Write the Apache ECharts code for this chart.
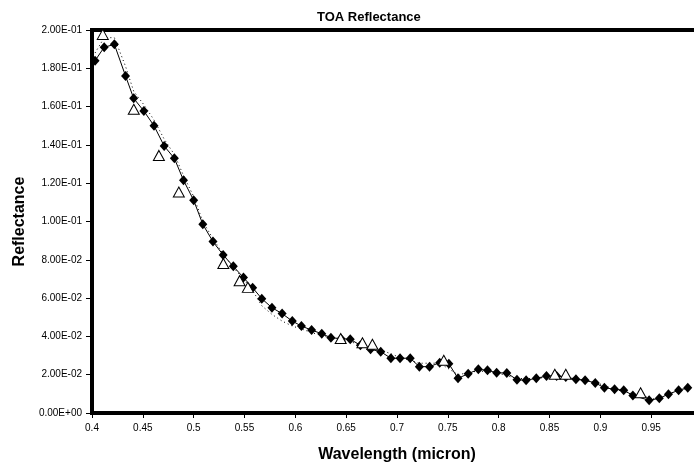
<!DOCTYPE html>
<html>
<head>
<meta charset="utf-8">
<script src="https://cdn.jsdelivr.net/npm/echarts@6/dist/echarts.min.js"></script>
<style>html,body{margin:0;padding:0;background:#fff;}#chart{width:694px;height:470px;}</style>
</head>
<body>
<div id="chart"></div>
<script>
// Diamond series (solid line)
var diamondX = [0.403,0.412,0.422,0.433,0.441,0.451,0.461,0.471,0.481,0.490,
  0.500,0.509,0.519,0.529,0.539,0.549,0.558,0.567,0.577,0.587,
  0.597,0.606,0.616,0.626,0.635,0.645,0.654,0.664,0.674,0.684,
  0.694,0.703,0.713,0.722,0.732,0.742,0.751,0.760,0.770,0.780,
  0.789,0.798,0.808,0.818,0.827,0.837,0.847,0.857,0.866,0.876,
  0.885,0.895,0.904,0.914,0.923,0.932,0.948,0.958,0.967,0.977,0.986];
var diamondY = [0.184,0.191,0.1925,0.176,0.1643,0.1577,0.150,0.1394,0.133,0.1215,
  0.1111,0.0985,0.0895,0.0825,0.0766,0.0707,0.0654,0.0597,0.055,0.0519,
  0.048,0.0454,0.0433,0.0414,0.0393,0.0388,0.0385,0.0354,0.0333,0.032,
  0.0286,0.0286,0.0286,0.0242,0.0242,0.0263,0.0257,0.0181,0.0205,0.0228,
  0.0223,0.021,0.0209,0.0174,0.0171,0.0181,0.0193,0.0193,0.0188,0.0176,
  0.0171,0.0157,0.0132,0.0124,0.0119,0.0092,0.0066,0.0077,0.0098,0.0119,0.0132];

// Triangle series (open markers)
var triX = [0.4106,0.4411,0.4658,0.4854,0.5292,0.5452,0.5533,0.6446,0.666,0.6758,0.746,0.8552,0.866,0.9396];
var triY = [0.1977,0.1586,0.1345,0.1154,0.0781,0.0691,0.0656,0.0389,0.0367,0.0359,0.0275,0.0202,0.0202,0.0106];

// Dotted line series
var dotX = [0.403,0.412,0.422,0.433,0.441,0.451,0.461,0.471,0.481,0.490,0.500,0.509,0.519,0.529,0.539,0.549,0.558,0.567,0.577,0.587,0.597,0.606,0.616,0.626,0.635,0.645,0.664,0.684,0.703,0.722,0.742,0.760,0.780,0.798,0.818,0.837,0.857,0.876,0.895,0.914,0.932,0.941,0.950,0.967,0.986];
var dotY = [0.188,0.196,0.196,0.181,0.168,0.161,0.153,0.143,0.135,0.124,0.113,0.100,0.091,0.083,0.076,0.070,0.064,0.056,0.0515,0.048,0.0454,0.0439,0.042,0.0405,0.039,0.038,0.036,0.033,0.029,0.026,0.026,0.020,0.022,0.021,0.018,0.018,0.0195,0.018,0.016,0.0125,0.010,0.0095,0.007,0.010,0.013];

var xTicks = {min:0.4, max:1.0, interval:0.05};
var yTicks = {min:0, max:0.2, interval:0.02};

function pairs(xs, ys){ return xs.map(function(x,i){ return [x, ys[i]]; }); }
function fmtE(v){
  if (v === 0) return '0.00E+00';
  var e = Math.floor(Math.log10(Math.abs(v)) + 1e-9);
  var m = v / Math.pow(10, e);
  if (Math.abs(m) >= 9.995) { m /= 10; e += 1; }
  var es = (e < 0 ? '-' : '+') + (Math.abs(e) < 10 ? '0' : '') + Math.abs(e);
  return m.toFixed(2) + 'E' + es;
}

var FONT = "'Liberation Sans', Arial, sans-serif";
var chart = echarts.init(document.getElementById('chart'), null, {renderer:'canvas'});
chart.setOption({
  animation: false,
  backgroundColor: '#fff',
  title: {
    text: 'TOA Reflectance', left: 312, top: 6,
    textStyle: {fontFamily: FONT, fontSize: 13, fontWeight: 'bold', color: '#000'}
  },
  grid: {
    left: 92, top: 30, right: -8, bottom: 57,
    outerBoundsMode: 'none', containLabel: false,
    show: true, borderColor: '#000', borderWidth: 4, backgroundColor: '#fff'
  },
  xAxis: {
    type: 'value', min: xTicks.min, max: xTicks.max, interval: xTicks.interval,
    name: 'Wavelength (micron)', nameLocation: 'middle', nameGap: 34,
    nameTextStyle: {fontFamily: FONT, fontSize: 16, fontWeight: 'bold', color: '#000'},
    axisLine: {show: true, onZero: false, lineStyle: {color: '#000', width: 4}},
    axisTick: {show: true, inside: false, length: 5, lineStyle: {color: '#000', width: 1}},
    axisLabel: {
      fontFamily: FONT, fontSize: 10, color: '#000', margin: 10,
      formatter: function(v){ return v > 0.97 ? '' : String(Number(v.toFixed(2))); }
    },
    splitLine: {show: false}
  },
  yAxis: {
    type: 'value', min: yTicks.min, max: yTicks.max, interval: yTicks.interval,
    name: 'Reflectance', nameLocation: 'middle', nameGap: 64, nameRotate: 90,
    nameTextStyle: {fontFamily: FONT, fontSize: 16, fontWeight: 'bold', color: '#000'},
    axisLine: {show: true, lineStyle: {color: '#000', width: 4}},
    axisTick: {show: true, inside: false, length: 6, lineStyle: {color: '#000', width: 1}},
    axisLabel: {fontFamily: FONT, fontSize: 10, color: '#000', margin: 10, formatter: fmtE},
    splitLine: {show: false}
  },
  series: [
    {
      type: 'line', data: pairs(dotX, dotY), symbol: 'none', z: 2,
      lineStyle: {color: '#000', width: 1, type: [1, 3]}
    },
    {
      type: 'line', data: pairs(diamondX, diamondY), symbol: 'diamond', symbolSize: [9, 10], z: 3,
      lineStyle: {color: '#000', width: 1}, itemStyle: {color: '#000'}
    },
    {
      type: 'scatter', data: pairs(triX, triY), symbol: 'triangle', symbolSize: [11, 10], z: 4,
      itemStyle: {color: '#fff', borderColor: '#000', borderWidth: 1, opacity: 1}
    }
  ]
});
</script>
</body>
</html>
